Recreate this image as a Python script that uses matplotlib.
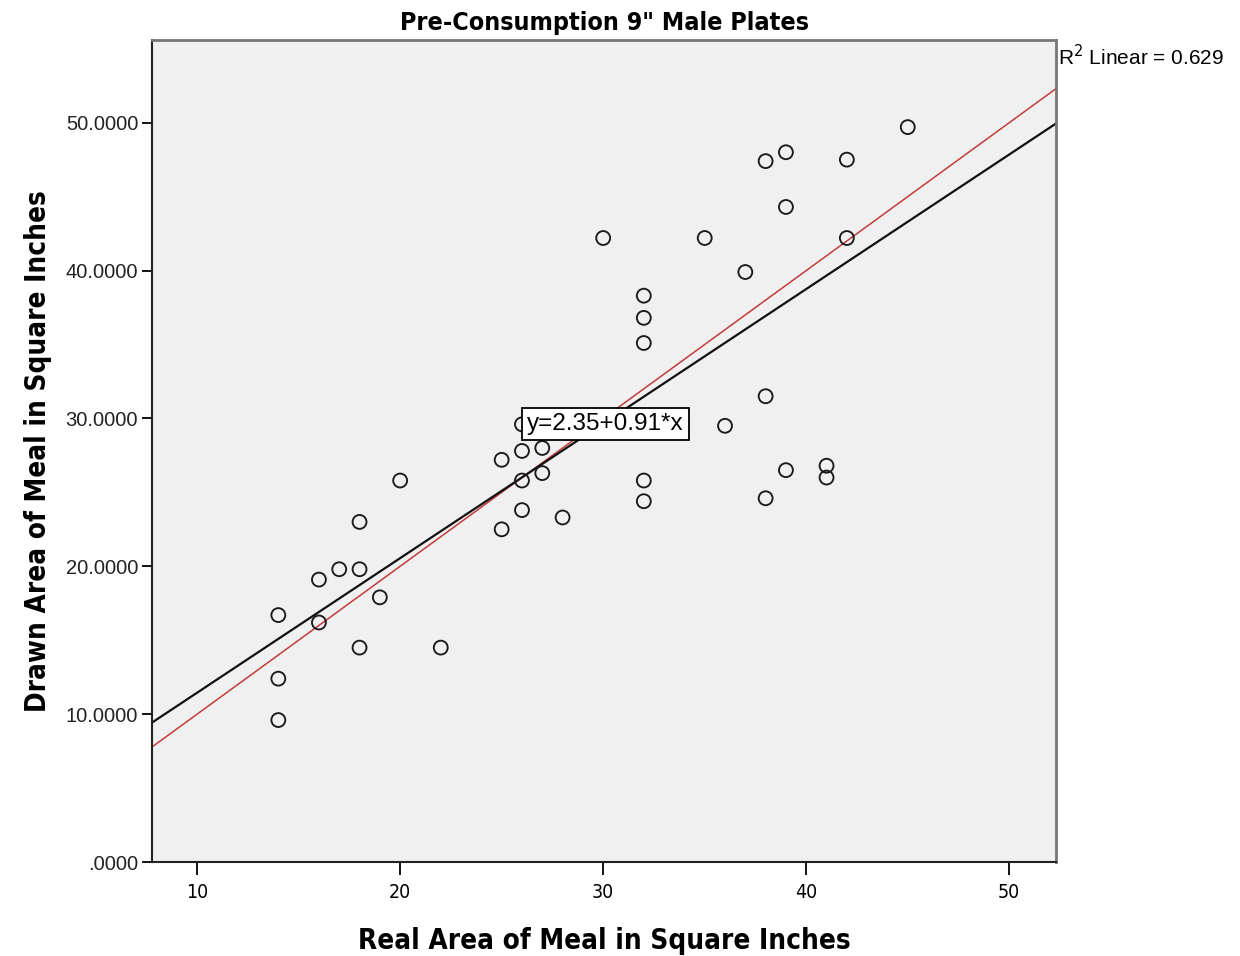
import matplotlib.pyplot as plt
import numpy as np
from matplotlib import font_manager

# Real vs drawn area (square inches)
real_area = [14, 14, 14, 16, 16, 17, 18, 18, 18, 19, 20, 22, 25, 25, 26, 26, 26, 26,
             27, 27, 28, 30, 32, 32, 32, 32, 32, 35, 36, 37, 38, 38, 38, 39, 39, 39,
             41, 41, 42, 42, 45]
drawn_area = [16.7, 12.4, 9.6, 19.1, 16.2, 19.8, 23.0, 19.8, 14.5, 17.9, 25.8, 14.5,
              27.2, 22.5, 29.6, 27.8, 25.8, 23.8, 28.0, 26.3, 23.3, 42.2, 38.3, 36.8,
              35.1, 25.8, 24.4, 42.2, 29.5, 39.9, 47.4, 31.5, 24.6, 48.0, 44.3, 26.5,
              26.8, 26.0, 47.5, 42.2, 49.7]
fit_intercept = 2.35
fit_slope = 0.91
r_squared = 0.629
x_ticks = [10, 20, 30, 40, 50]
y_ticks = [0, 10, 20, 30, 40, 50]
y_tick_labels = [".0000", "10.0000", "20.0000", "30.0000", "40.0000", "50.0000"]

# use a condensed bold face for the headings if one is installed
condensed = [f for f in font_manager.fontManager.ttflist
             if f.stretch in ("condensed", "semi-condensed")
             or "Narrow" in f.name or "Condensed" in f.name]
if condensed:
    head_font = dict(family=[condensed[0].name, "Liberation Sans"], stretch="condensed")
    head_size = 20
else:
    head_font = dict(family=["Liberation Sans", "DejaVu Sans"])
    head_size = 19
regular = ["Liberation Sans", "DejaVu Sans"]

fig = plt.figure(figsize=(12.4, 9.56), dpi=100)
ax = fig.add_axes([0.1226, 0.0983, 0.729, 0.86])
ax.set_facecolor("#f0f0f0")
xlim = (7.78, 52.3)
ylim = (0, 55.6)
ax.set_xlim(*xlim)
ax.set_ylim(*ylim)

for side in ["left", "bottom"]:
    ax.spines[side].set_color("#222222")
    ax.spines[side].set_linewidth(1.5)
for side in ["top", "right"]:
    ax.spines[side].set_color("#777777")
    ax.spines[side].set_linewidth(2)

# Reference line y = x (red) and fit line (black)
xs = np.array(xlim)
ax.plot(xs, xs, color="#c23b3b", linewidth=1.1, zorder=2)
ax.plot(xs, fit_intercept + fit_slope * xs, color="#111111", linewidth=1.6, zorder=2)

ax.scatter(real_area, drawn_area, s=100, facecolors="none", edgecolors="#1a1a1a",
           linewidths=1.35, zorder=3)

ax.set_xticks(x_ticks)
ax.set_xticklabels([str(t) for t in x_ticks], fontsize=14, **head_font)
ax.set_yticks(y_ticks)
ax.set_yticklabels(y_tick_labels, family=regular, fontsize=14.5, color="#222222")
ax.tick_params(axis="x", direction="out", length=9, width=1.3, pad=6)
ax.tick_params(axis="y", direction="out", length=7, width=1.3, pad=3)

ax.set_title("Pre-Consumption 9\" Male Plates", fontweight="bold",
             fontsize=head_size - 2, pad=7, **head_font)
ax.set_xlabel("Real Area of Meal in Square Inches", fontweight="bold",
              fontsize=head_size, labelpad=18, **head_font)
ax.set_ylabel("Drawn Area of Meal in Square Inches", fontweight="bold",
              fontsize=head_size, labelpad=10, **head_font)

ax.text(1.002, 0.995, f"R$^2$ Linear = {r_squared}", transform=ax.transAxes,
        family=regular, fontsize=15, ha="left", va="top")

ax.text(26.25, 29.6, f"y={fit_intercept}+{fit_slope}*x", family=regular, fontsize=17.5,
        ha="left", va="center", zorder=4,
        bbox=dict(boxstyle="square,pad=0.2", facecolor="white", edgecolor="black",
                  linewidth=1.3))

plt.savefig("out.png", dpi=100)
